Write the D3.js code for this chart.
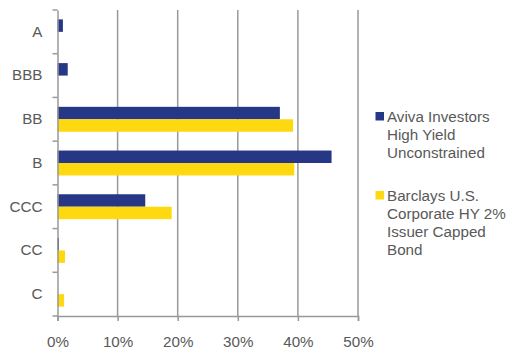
<!DOCTYPE html>
<html><head><meta charset="utf-8">
<script src="https://cdn.jsdelivr.net/npm/d3@7"></script>
<style>body{margin:0;background:#fff}svg{display:block}text{font-family:"Liberation Sans",Arial,sans-serif}</style>
</head><body><svg id="c" width="512" height="347"></svg>
<script>
const categories = ["A","BBB","BB","B","CCC","CC","C"];
const seriesNames = ["Aviva Investors High Yield Unconstrained","Barclays U.S. Corporate HY 2% Issuer Capped Bond"];
const aviva = [0.9, 1.7, 37.0, 45.6, 14.6, 0.25, 0];
const barclays = [0, 0, 39.2, 39.4, 19.0, 1.25, 1.1];
const xTicks = [0,10,20,30,40,50];
const legendLines = [["Aviva Investors","High Yield","Unconstrained"],["Barclays U.S.","Corporate HY 2%","Issuer Capped","Bond"]];
const colors = ["#253785","#FFD90F"];

const svg = d3.select("#c");
const L=57.5, R=358, T=10, B=316;
const FS = 15.2;
const x = d3.scaleLinear().domain([0,50]).range([L,R]);
const y = d3.scaleBand().domain(categories).range([T,B]).paddingInner(0.43).paddingOuter(0.215);
const y2 = d3.scaleBand().domain([0,1]).range([0,y.bandwidth()]);

// gridlines
svg.append("g").selectAll("line").data(xTicks.filter(d=>d>0)).join("line")
  .attr("x1",d=>x(d)).attr("x2",d=>x(d)).attr("y1",T).attr("y2",B)
  .attr("stroke","#999").attr("stroke-width",1.5);

const data = [aviva, barclays];
data.forEach((vals,si)=>{
  svg.append("g").selectAll("rect").data(categories).join("rect")
    .attr("x",x(0)).attr("y",c=>y(c)+y2(si))
    .attr("width",(c,i)=>x(vals[i])-x(0)).attr("height",y2.bandwidth())
    .attr("fill",colors[si]);
});

// axes
const yAxis = d3.axisLeft(d3.scaleBand().domain(categories).range([T,B])).tickSize(0).tickPadding(15);
const gy = svg.append("g").attr("transform",`translate(${L},0)`).call(yAxis);
gy.select(".domain").attr("stroke","#999").attr("stroke-width",1.5);
gy.selectAll("text").attr("font-size",FS).attr("fill","#595959");
// category separator ticks
const edges = d3.range(categories.length+1).map(i=>T+i*(B-T)/categories.length);
svg.append("g").selectAll("line").data(edges).join("line")
  .attr("x1",L-5).attr("x2",L).attr("y1",d=>d).attr("y2",d=>d)
  .attr("stroke","#999").attr("stroke-width",1.5);

const xAxis = d3.axisBottom(x).tickValues(xTicks).tickFormat(d=>d+"%").tickSize(5).tickPadding(15);
const gx = svg.append("g").attr("transform",`translate(0,${B})`).call(xAxis);
gx.select(".domain").attr("stroke","#999").attr("stroke-width",1.5);
gx.selectAll(".tick line").attr("stroke","#999").attr("stroke-width",1.5);
gx.selectAll("text").attr("font-size",FS).attr("fill","#595959");

// legend
const lg = svg.append("g");
const starts = [117, 196];
legendLines.forEach((lines,si)=>{
  lg.append("rect").attr("x",375.5).attr("y",starts[si]-5).attr("width",8.5).attr("height",8.5).attr("fill",colors[si]);
  lines.forEach((t,j)=>{
    lg.append("text").attr("x",387).attr("y",starts[si]+j*18).attr("dy","0.35em")
      .attr("font-size",FS).attr("fill","#595959").text(t);
  });
});
</script></body></html>
